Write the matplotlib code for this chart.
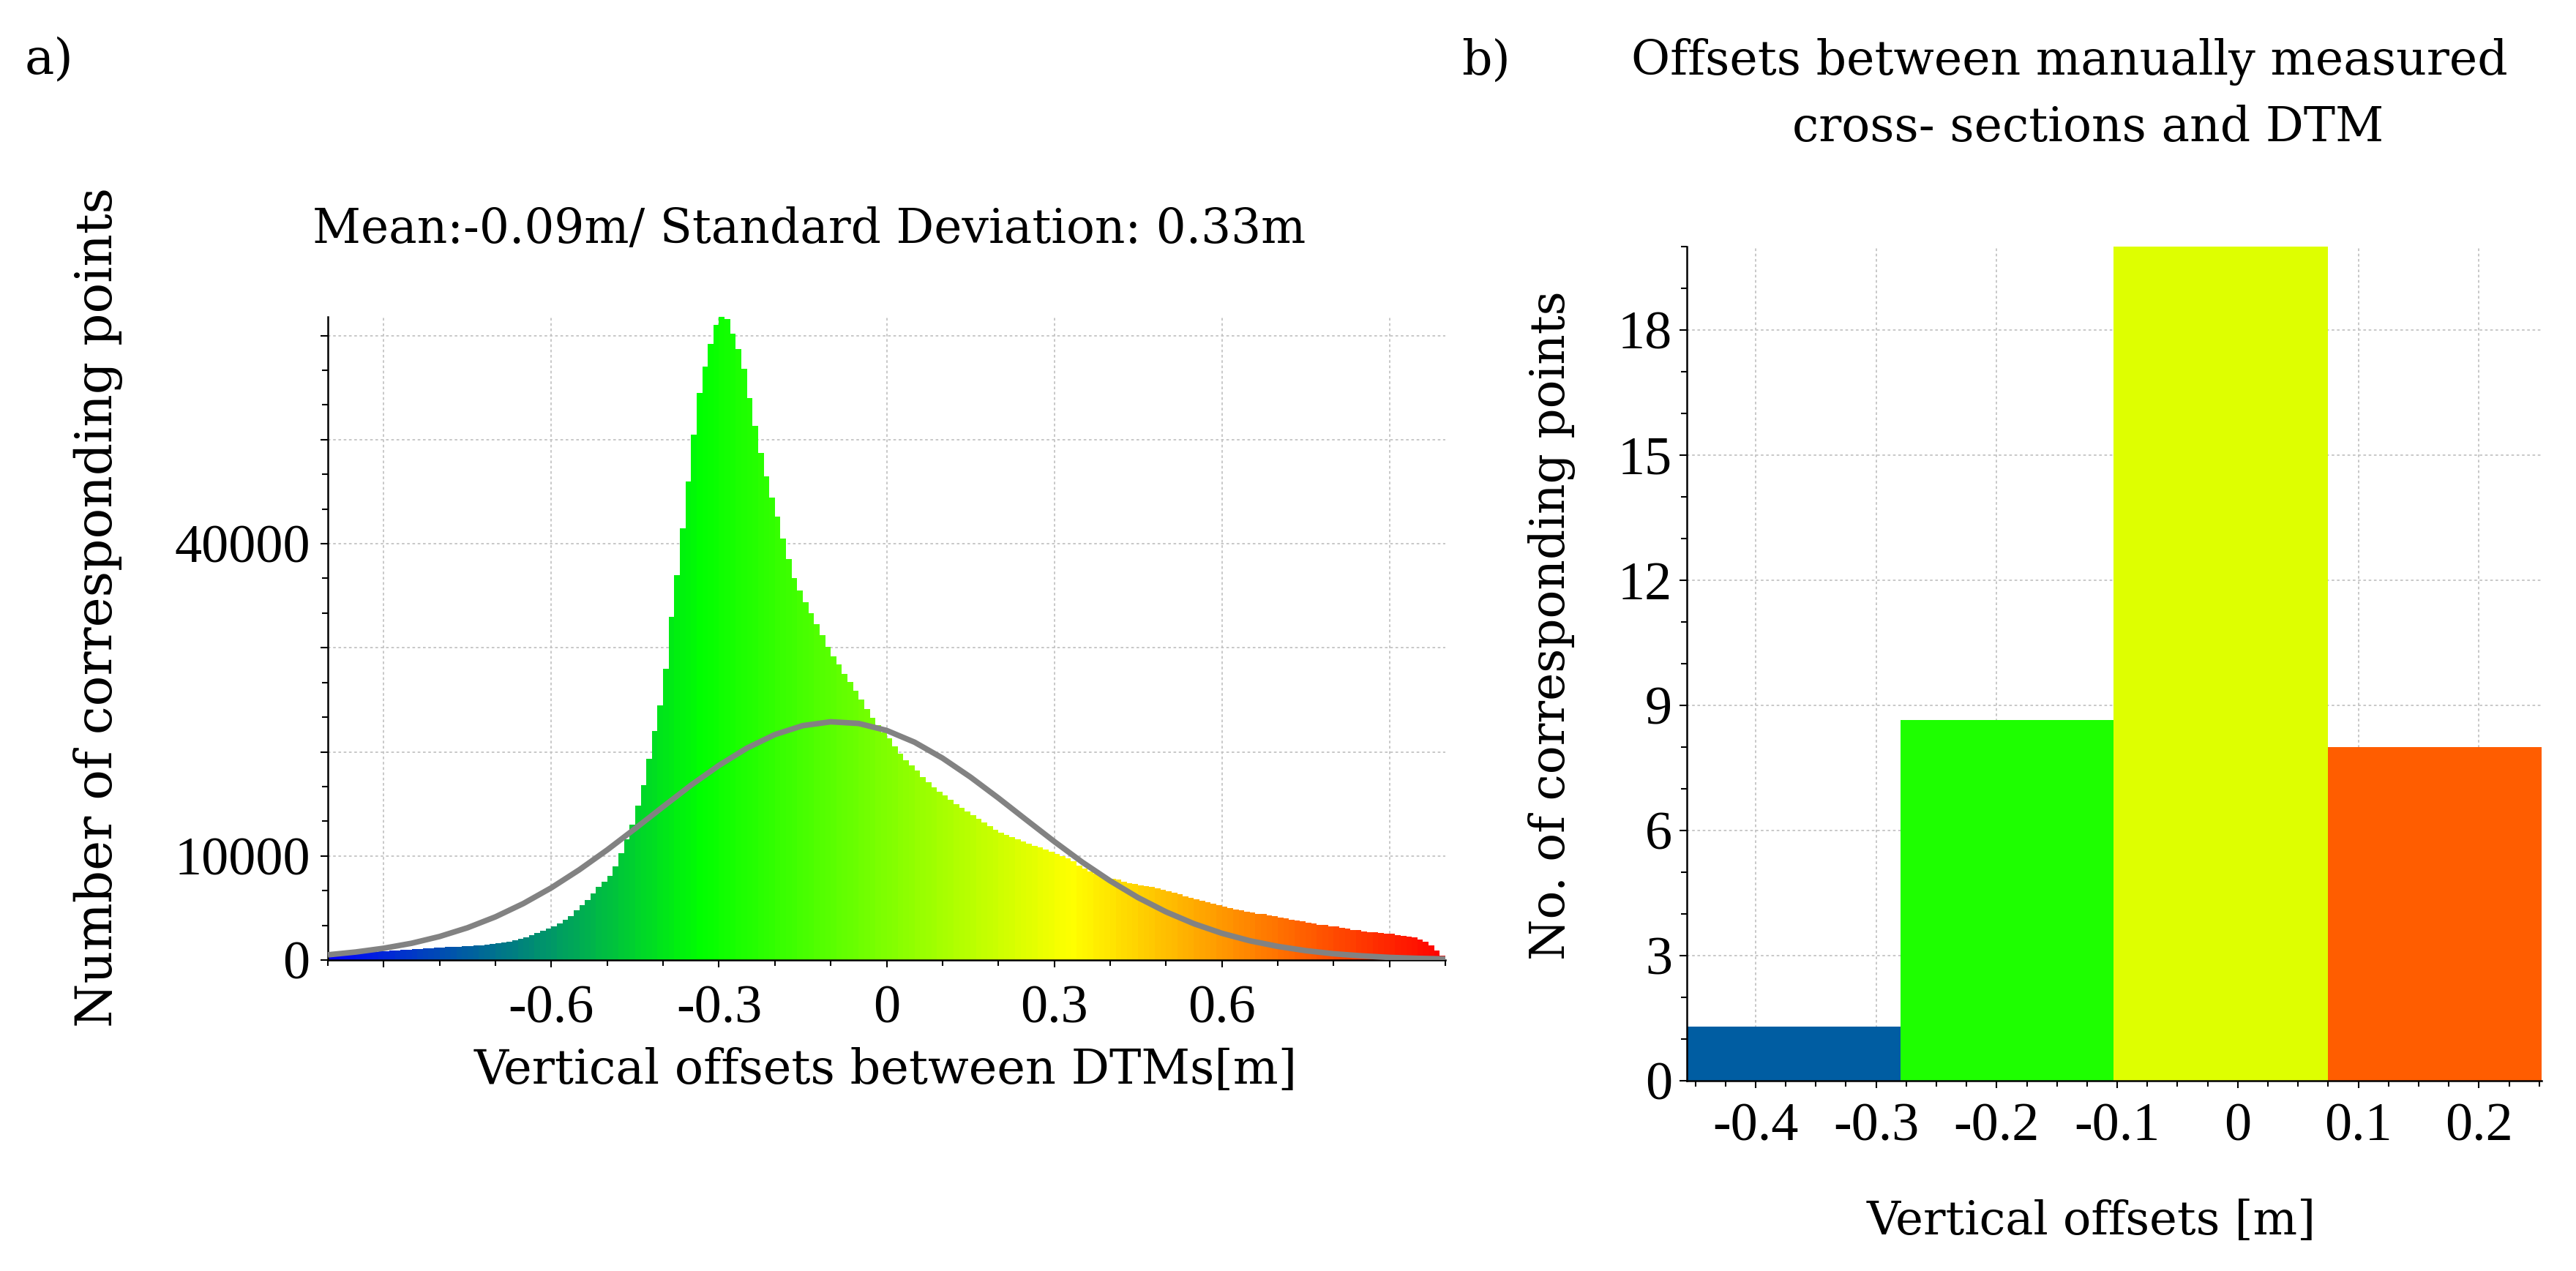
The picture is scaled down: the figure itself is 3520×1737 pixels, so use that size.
import numpy as np
import matplotlib
matplotlib.use("Agg")
import matplotlib.pyplot as plt
from matplotlib.colors import LinearSegmentedColormap, Normalize
from matplotlib.ticker import MultipleLocator, FixedLocator, FixedFormatter

# ---------------- data ----------------
# panel a: histogram of vertical offsets between DTMs (bins of 0.01 m from -1 to 1)
hist_range = [-1.0, 1.0]
hist_counts = [
    300, 380, 450, 520, 580, 640, 700, 750, 800, 840,
    870, 900, 930, 960, 990, 1020, 1050, 1090, 1130, 1170,
    1210, 1240, 1270, 1300, 1330, 1360, 1400, 1440, 1490, 1540,
    1600, 1680, 1780, 1900, 2050, 2200, 2400, 2600, 2800, 3000,
    3200, 3500, 3850, 4250, 4750, 5250, 5800, 6400, 7000, 7500,
    8100, 9000, 10300, 11600, 13000, 14800, 16800, 19300, 22000, 24500,
    28000, 33000, 37000, 41500, 46000, 50500, 54500, 57000, 59200, 61000,
    61800, 61600, 60200, 58700, 56800, 54000, 51300, 48700, 46500, 44400,
    42600, 40500, 38500, 36700, 35500, 34400, 33300, 32300, 31200, 30100,
    29200, 28400, 27500, 26700, 25900, 25000, 24100, 23300, 22600, 21900,
    21300, 20500, 19800, 19200, 18700, 18200, 17600, 17100, 16600, 16200,
    15800, 15400, 15000, 14600, 14300, 13900, 13600, 13200, 12900, 12500,
    12200, 12000, 11800, 11600, 11400, 11200, 11000, 10800, 10600, 10400,
    10200, 10000, 9800, 9500, 9100, 8800, 8500, 8300, 8100, 7900,
    7800, 7700, 7550, 7400, 7300, 7200, 7100, 7000, 6900, 6750,
    6600, 6450, 6300, 6150, 6000, 5850, 5700, 5550, 5400, 5250,
    5100, 5000, 4850, 4750, 4650, 4550, 4450, 4400, 4300, 4200,
    4100, 4000, 3900, 3800, 3700, 3600, 3500, 3400, 3350, 3250,
    3200, 3100, 3000, 2900, 2850, 2750, 2700, 2650, 2600, 2550,
    2500, 2400, 2300, 2250, 2150, 2000, 1750, 1400, 900, 400,
]
# fitted normal curve (read every 0.05 m from -1 to 1)
curve_y = [500, 770, 1130, 1610, 2260, 3100, 4150, 5430, 6940, 8670,
           10580, 12630, 14730, 16800, 18700, 20360, 21660, 22520, 22890, 22730,
           22060, 20930, 19400, 17580, 15570, 13470, 11390, 9410, 7610, 6000,
           4630, 3490, 2570, 1850, 1310, 900, 600, 400, 250, 160, 100]
a_xticks = [-0.9, -0.6, -0.3, 0.0, 0.3, 0.6, 0.9]
a_xticklabels = ["", "-0.6", "-0.3", "0", "0.3", "0.6", ""]
a_yticks = [0, 10000, 20000, 30000, 40000, 50000, 60000]
a_yticklabels = ["0", "10000", "", "", "40000", "", ""]

# panel b: offsets between manual cross-sections and DTM
b_edges = [-0.457, -0.280, -0.103, 0.075, 0.252]
b_counts = [1.3, 8.65, 20.0, 8.0]
b_xticks = [-0.4, -0.3, -0.2, -0.1, 0.0, 0.1, 0.2]
b_xticklabels = ["-0.4", "-0.3", "-0.2", "-0.1", "0", "0.1", "0.2"]
b_yticks = [0, 3, 6, 9, 12, 15, 18]
b_yticklabels = ["0", "3", "6", "9", "12", "15", "18"]

# ---------------- style ----------------
W, H, DPI = 3520, 1737, 100
plt.rcParams['font.family'] = ['Liberation Serif', 'DejaVu Serif']
plt.rcParams['axes.unicode_minus'] = False
TEXT_FAMILY = ['DejaVu Serif']
cmap = LinearSegmentedColormap.from_list(
    "bgyr", ["#0000ff", "#00ff00", "#ffff00", "#ff0000"])
GRID = dict(color="#c4c4c4", linestyle=(0, (2, 2)), linewidth=1.3)

fig = plt.figure(figsize=(W / DPI, H / DPI), dpi=DPI)
renderer = fig.canvas.get_renderer()


def fpos(x, y):
    return x / W, 1 - y / H


def fitted_text(s, target, x, y, along="width", **kw):
    t = fig.text(*fpos(x, y), s, fontsize=40, family=TEXT_FAMILY, **kw)
    bb = t.get_window_extent(renderer)
    size = bb.width if along == "width" else bb.height
    t.set_fontsize(40 * target / size)
    return t


probe = fig.text(0, 0, "40000", fontsize=40, family=['Liberation Serif'])
tick_fs = 40 * 185 / probe.get_window_extent(renderer).width
probe.remove()


def style_axes(ax):
    for s in ("top", "right"):
        ax.spines[s].set_visible(False)
    for s in ("left", "bottom"):
        ax.spines[s].set_linewidth(1.8)
        ax.spines[s].set_color("black")
    ax.set_axisbelow(True)
    ax.tick_params(which="both", direction="out", width=1.5, colors="black",
                   labelsize=tick_fs)
    ax.tick_params(which="major", length=7.5)
    ax.tick_params(which="minor", length=5.5)
    ax.grid(True, which="major", **GRID)


# ---------------- panel a ----------------
axA = fig.add_axes([448 / W, 1 - 1312 / H, (1975 - 448) / W, (1312 - 433) / H])
edges = np.linspace(hist_range[0], hist_range[1], len(hist_counts) + 1)
centers = (edges[:-1] + edges[1:]) / 2
normA = Normalize(hist_range[0], hist_range[1])
axA.bar(centers, hist_counts, width=np.diff(edges), color=cmap(normA(centers)),
        linewidth=0, antialiased=False, zorder=2)
curve_x = np.linspace(hist_range[0], hist_range[1], len(curve_y))
axA.plot(curve_x, curve_y, color="#828282", linewidth=5.5, zorder=3,
         solid_capstyle="butt")
axA.set_xlim(hist_range)
axA.set_ylim(0, max(hist_counts))
axA.xaxis.set_major_locator(FixedLocator(a_xticks))
axA.xaxis.set_major_formatter(FixedFormatter(a_xticklabels))
axA.xaxis.set_minor_locator(MultipleLocator(0.1))
axA.yaxis.set_major_locator(FixedLocator(a_yticks))
axA.yaxis.set_major_formatter(FixedFormatter(a_yticklabels))
axA.yaxis.set_minor_locator(MultipleLocator(10000 / 3))
style_axes(axA)
axA.tick_params(axis="y", pad=10)
axA.tick_params(axis="x", pad=17)

titleA = fitted_text("Mean:-0.09m/ Standard Deviation: 0.33m", 1355, 427, 332,
                     ha="left", va="baseline")
fig.text(*fpos(34, 100), "a)", fontsize=titleA.get_fontsize() * 1.05,
         family=TEXT_FAMILY, ha="left", va="baseline")
fitted_text("Number of corresponding points", 1145, 134, 830, along="height",
            rotation=90, ha="center", va="center")
fitted_text("Vertical offsets between DTMs[m]", 1122, 648, 1481,
            ha="left", va="baseline")

# ---------------- panel b ----------------
axB = fig.add_axes([2305 / W, 1 - 1477 / H, (3473 - 2305) / W, (1477 - 337) / H])
b_left = np.array(b_edges[:-1])
b_width = np.diff(b_edges)
normB = Normalize(b_edges[0], b_edges[-1])
axB.bar(b_left, b_counts, width=b_width, align="edge",
        color=cmap(normB(b_left + b_width / 2)), linewidth=0, zorder=2)
axB.set_xlim(b_edges[0], b_edges[-1])
axB.set_ylim(0, 20)
axB.xaxis.set_major_locator(FixedLocator(b_xticks))
axB.xaxis.set_major_formatter(FixedFormatter(b_xticklabels))
axB.xaxis.set_minor_locator(MultipleLocator(0.025))
axB.yaxis.set_major_locator(FixedLocator(b_yticks))
axB.yaxis.set_major_formatter(FixedFormatter(b_yticklabels))
axB.yaxis.set_minor_locator(MultipleLocator(1))
style_axes(axB)
axB.tick_params(axis="y", pad=7)
axB.tick_params(axis="x", pad=14)

t1 = fitted_text("Offsets between manually measured", 1194, 2828, 102,
                 ha="center", va="baseline")
fig.text(*fpos(2853, 193), "cross- sections and DTM", fontsize=t1.get_fontsize(),
         family=TEXT_FAMILY, ha="center", va="baseline")
fig.text(*fpos(1997, 102), "b)", fontsize=t1.get_fontsize(),
         family=TEXT_FAMILY, ha="left", va="baseline")
fitted_text("No. of corresponding points", 913, 2120, 855, along="height",
            rotation=90, ha="center", va="center")
fitted_text("Vertical offsets [m]", 614, 2551, 1687, ha="left", va="baseline")

fig.savefig("out.png", dpi=DPI, facecolor="white")
